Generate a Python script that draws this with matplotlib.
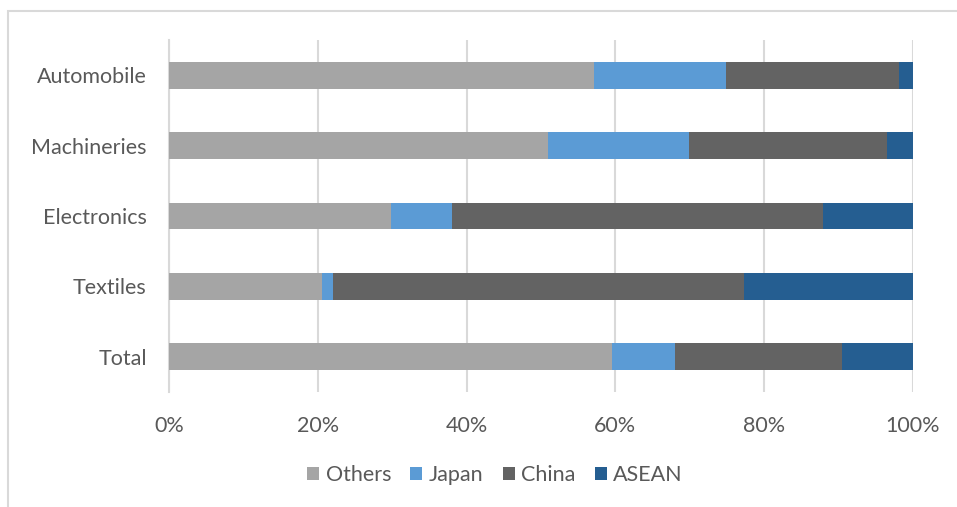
import matplotlib
matplotlib.use("Agg")
import matplotlib.pyplot as plt
from matplotlib.patches import Rectangle
from matplotlib.ticker import PercentFormatter

categories = ["Total", "Textiles", "Electronics", "Machineries", "Automobile"]
others = [59.5, 20.6, 29.9, 51.0, 57.1]
japan = [8.5, 1.4, 8.2, 18.9, 17.7]
china = [22.5, 55.3, 49.8, 26.6, 23.3]
asean = [9.5, 22.7, 12.1, 3.5, 1.9]
series_names = ["Others", "Japan", "China", "ASEAN"]
colors = ["#A5A5A5", "#5B9BD5", "#636363", "#255E91"]

plt.rcParams['font.family'] = ['Lato', 'DejaVu Sans']
fig = plt.figure(figsize=(9.57, 5.07), dpi=100)
fig.patch.set_facecolor("white")
fig.patches.append(Rectangle((8/957, -0.1), 1.2, (1 - 11/507) + 0.1, transform=fig.transFigure,
                             fill=False, edgecolor="#D9D9D9", linewidth=1.5, zorder=0))

ax = fig.add_axes([169/957, 1 - 392/507, 744/957, 352/507])
left = [0.0] * len(categories)
handles = []
for name, vals, c in zip(series_names, [others, japan, china, asean], colors):
    b = ax.barh(range(len(categories)), vals, left=left, height=0.38, color=c, label=name, zorder=3)
    handles.append(b)
    left = [l + v for l, v in zip(left, vals)]

ax.set_xlim(0, 100)
ax.set_ylim(-0.5, 4.5)
ax.set_xticks([0, 20, 40, 60, 80, 100])
ax.xaxis.set_major_formatter(PercentFormatter(decimals=0))
ax.set_yticks(range(len(categories)))
ax.set_yticklabels(categories)
ax.grid(axis="x", color="#D9D9D9", linewidth=1.5, zorder=0)
for s in ["top", "right", "bottom"]:
    ax.spines[s].set_visible(False)
ax.spines["left"].set_color("#D9D9D9")
ax.spines["left"].set_linewidth(1.5)
ax.tick_params(axis="both", length=0, labelcolor="#595959", labelsize=15.5)
ax.tick_params(axis="y", pad=16)
ax.tick_params(axis="x", pad=17)

fig.legend(handles=handles, labels=series_names, loc="center", bbox_to_anchor=(495/957, 1 - 475/507),
           ncol=4, frameon=False, fontsize=15.5, labelcolor="#595959",
           handlelength=0.55, handleheight=0.55, handletextpad=0.3, columnspacing=0.9)

fig.savefig("out.png", dpi=100, facecolor="white")
